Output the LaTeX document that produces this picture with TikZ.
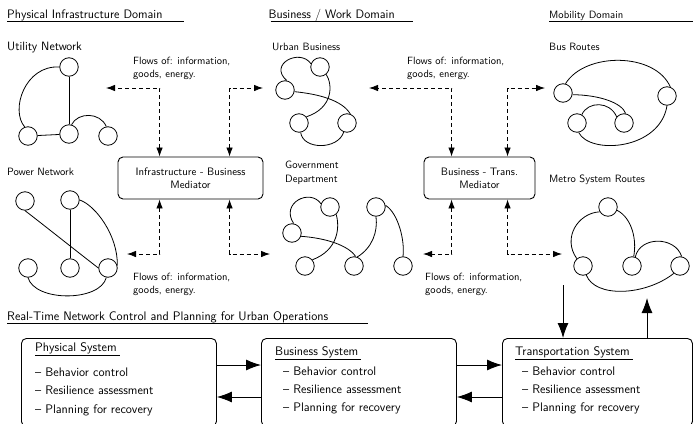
\documentclass[tikz,border=0pt]{standalone}
\usetikzlibrary{arrows.meta,calc}
\begin{document}
\begin{tikzpicture}[x=1pt,y=-1pt,
  hdr/.style={font=\sffamily\fontsize{12.3}{14}\selectfont, anchor=base west, inner sep=0pt},
  lbl/.style={font=\sffamily\fontsize{10.6}{14}\selectfont, anchor=base west, inner sep=0pt},
  lbltwo/.style={font=\sffamily\fontsize{10.6}{14}\selectfont, anchor=north west, inner sep=0pt, align=left},
  flw/.style={font=\sffamily\fontsize{10.5}{12.7}\selectfont, anchor=north west, inner sep=0pt, align=left},
  itm/.style={font=\sffamily\fontsize{12.4}{14}\selectfont, anchor=base west, inner sep=0pt},
  nd/.style={circle, draw, line width=0.8pt, minimum size=18.5pt, inner sep=0pt},
  ln/.style={line width=0.8pt},
  med/.style={draw, rounded corners=5pt, line width=0.9pt, align=center, minimum height=42pt,
    font=\sffamily\fontsize{10.8}{13.3}\selectfont},
  flow/.style={line width=0.8pt, dash pattern=on 4pt off 3pt,
    {Latex[length=9pt,width=6.5pt]}-{Latex[length=9pt,width=6.5pt]}},
  sys/.style={draw, rounded corners=5pt, line width=0.9pt, anchor=north west, inner sep=0pt},
  big/.style={line width=0.9pt, -{Latex[length=15pt,width=11pt]}},
  ul/.style={line width=1.3pt},
  tul/.style={line width=0.8pt}
]
\useasboundingbox (0,0) rectangle (693,423);
\clip (0,0) rectangle (693,423);

% ---------- headers ----------
\node[hdr] (h1) at (7,18) {Physical Infrastructure Domain};
\draw[ul] ($(h1.base west)+(0,3.5)$) -- ++(177,0);
\node[hdr] (h2) at (268.5,18) {Business / Work Domain};
\draw[ul] ($(h2.base west)+(2,3.5)$) -- ++(142,0);
\node[hdr, font=\sffamily\fontsize{10.6}{14}\selectfont] (h3) at (549,18) {Mobility Domain};
\draw[ul] ($(h3.base west)+(0,3.5)$) -- ++(144,0);
\node[hdr, font=\sffamily\fontsize{12.4}{14}\selectfont] (h4) at (7,320.5) {Real-Time Network Control and Planning for Urban Operations};
\draw[ul] ($(h4.base west)+(0,2.8)$) -- ++(361,0);

% ---------- Utility network ----------
\node[hdr, font=\sffamily\fontsize{12.1}{14}\selectfont] (lu) at (7,50) {Utility Network};
\node[nd] (u1) at (69,67) {};
\node[nd] (u2) at (28,136) {};
\node[nd] (u3) at (69,134) {};
\node[nd] (u4) at (108,136) {};
\draw[ln] (u1) -- (u3);
\draw[ln] (u2) -- (u3);
\draw[ln] (u1.west) .. controls (25,65) and (10,110) .. (u2.110);
\draw[ln] (u3.75) .. controls (78,112) and (100,112) .. (u4.100);

% ---------- Power network ----------
\node[lbl] (lp) at (7,175) {Power Network};
\node[nd] (p1) at (25,201) {};
\node[nd] (p2) at (70,200) {};
\node[nd] (p3) at (28,268) {};
\node[nd] (p4) at (70,268) {};
\node[nd] (p5) at (108,268) {};
\draw[ln] (p2) -- (p4);
\draw[ln] (p1.south) .. controls (45,226) and (75,250) .. (p5.west);
\draw[ln] (p2.east) .. controls (95,205) and (118,235) .. (p5.15);
\draw[ln] (p3.-90) .. controls (35,302) and (100,302) .. (p5.-100);

% ---------- Urban business ----------
\node[lbl] (lb) at (272,50) {Urban Business};
\node[nd] (b1) at (320,67) {};
\node[nd] (b2) at (285,90) {};
\node[nd] (b3) at (299,123) {};
\node[nd] (b4) at (347,123) {};
\draw[ln] (b1.160) .. controls (300,48) and (268,64) .. (b2.80);
\draw[ln] (b1.-50) .. controls (333,85) and (333,108) .. (b3.40);
\draw[ln] (b2.-10) .. controls (318,94) and (342,100) .. (b4.70);
\draw[ln] (b3.-80) .. controls (303,150) and (338,150) .. (b4.-110);

% ---------- Government department ----------
\node[lbltwo] (lg) at (285,161) {Government\\Department};
\node[nd] (g1) at (330,207) {};
\node[nd] (g2) at (292,233) {};
\node[nd] (g3) at (305,266) {};
\node[nd] (g4) at (354,266) {};
\node[nd] (g5) at (376,207) {};
\node[nd] (g6) at (403,266) {};
\draw[ln] (g1.160) .. controls (310,188) and (280,203) .. (g2.80);
\draw[ln] (g1.-50) .. controls (340,228) and (338,250) .. (g3.40);
\draw[ln] (g2.-20) .. controls (325,238) and (348,245) .. (g4.80);
\draw[ln] (g5.-90) .. controls (378,232) and (372,248) .. (g4.70);
\draw[ln] (g5.10) .. controls (398,213) and (405,240) .. (g6.north);

% ---------- Bus routes ----------
\node[lbl] (lr) at (549,50) {Bus Routes};
\node[nd] (r1) at (563,93) {};
\node[nd] (r2) at (667,96) {};
\node[nd] (r3) at (577,123) {};
\node[nd] (r4) at (624,123) {};
\draw[ln] (r1.75) .. controls (585,52) and (655,52) .. (r2.70);
\draw[ln] (r1.-10) .. controls (600,95) and (622,103) .. (r4.80);
\draw[ln] (r3.60) .. controls (588,101) and (610,101) .. (r4.140);
\draw[ln] (r3.-80) .. controls (590,155) and (660,150) .. (r2.-90);

% ---------- Metro ----------
\node[lbl] (lm) at (549,182.3) {Metro System Routes};
\node[nd] (m1) at (608,207) {};
\node[nd] (m2) at (583,266) {};
\node[nd] (m3) at (632,266) {};
\node[nd] (m4) at (680,266) {};
\draw[ln] (m1.210) .. controls (578,213) and (562,238) .. (m2.130);
\draw[ln] (m1.-20) .. controls (632,218) and (637,240) .. (m3.80);
\draw[ln] (m3.70) .. controls (640,236) and (675,236) .. (m4.80);
\draw[ln] (m2.-70) .. controls (595,298) and (645,296) .. (m4.-130);

% ---------- Mediators ----------
\node[med, minimum width=145pt] (med1) at (190.5,178) {Infrastructure - Business\\Mediator};
\node[med, minimum width=111pt] (med2) at (479.5,178) {Business - Trans.\\Mediator};

\node[flw] (f1) at (133,57) {Flows of: information,\\goods, energy.};
\node[flw] (f2) at (133,272.7) {Flows of: information,\\goods, energy.};
\node[flw] (f3) at (407,57) {Flows of: information,\\goods, energy.};
\node[flw] (f4) at (425,272.7) {Flows of: information,\\goods, energy.};

\coordinate (e1) at (106,88);
\coordinate (e2) at (263,88);
\coordinate (e3) at (127,254);
\coordinate (e4) at (270,254);
\coordinate (e5) at (369,88);
\coordinate (e6) at (545,88);
\coordinate (e7) at (423,254);
\coordinate (e8) at (562,254);

\draw[flow] ($(med1.north west)+(42,0)$) |- (e1);
\draw[flow] ($(med1.north west)+(112,0)$) |- (e2);
\draw[flow] ($(med1.south west)+(42,0)$) |- (e3);
\draw[flow] ($(med1.south west)+(112,0)$) |- (e4);
\draw[flow] ($(med2.north west)+(28,0)$) |- (e5);
\draw[flow] ($(med2.north west)+(84,0)$) |- (e6);
\draw[flow] ($(med2.south west)+(28,0)$) |- (e7);
\draw[flow] ($(med2.south west)+(84,0)$) |- (e8);

% ---------- System boxes ----------
\node[sys, minimum width=195pt, minimum height=88pt] (phys) at (21,338) {};
\node[sys, minimum width=195pt, minimum height=88pt] (bus) at (261,338) {};
\node[sys, minimum width=190pt, minimum height=88pt] (trans) at (502,338) {};

\node[itm] (pt) at (35,351) {Physical System};
\draw[tul] ($(pt.base west)+(0,4.5)$) -- ($(pt.base east)+(3,4.5)$);
\node[itm] (pa) at (35,376) {-- Behavior control};
\node[itm] (pb) at (35,394.5) {-- Resilience assessment};
\node[itm] (pc) at (35,413) {-- Planning for recovery};

\node[itm] (bt) at (275,355) {Business System};
\draw[tul] ($(bt.base west)+(0,4.3)$) -- ($(bt.base east)+(3,4.3)$);
\node[itm] (ba) at (283,375) {-- Behavior control};
\node[itm] (bb) at (283,393) {-- Resilience assessment};
\node[itm] (bc) at (283,411) {-- Planning for recovery};

\node[itm] (tt) at (515,355) {Transportation System};
\draw[tul] ($(tt.base west)+(0,4.3)$) -- ($(tt.base east)+(3,4.3)$);
\node[itm] (ta) at (522,375) {-- Behavior control};
\node[itm] (tb) at (522,393) {-- Resilience assessment};
\node[itm] (tc) at (522,411) {-- Planning for recovery};

\draw[big] ($(phys.north east)+(0,27)$) -- ($(bus.north west)+(0,27)$);
\draw[big] ($(bus.north west)+(0,59)$) -- ($(phys.north east)+(0,59)$);
\draw[big] ($(bus.north east)+(0,27)$) -- ($(trans.north west)+(0,27)$);
\draw[big] ($(trans.north west)+(0,59)$) -- ($(bus.north east)+(0,59)$);

\coordinate (v1) at (563,285);
\coordinate (v2) at (647,298);
\draw[big] (v1) -- (v1 |- trans.north);
\draw[big] (v2 |- trans.north) -- (v2);
\end{tikzpicture}
\end{document}
